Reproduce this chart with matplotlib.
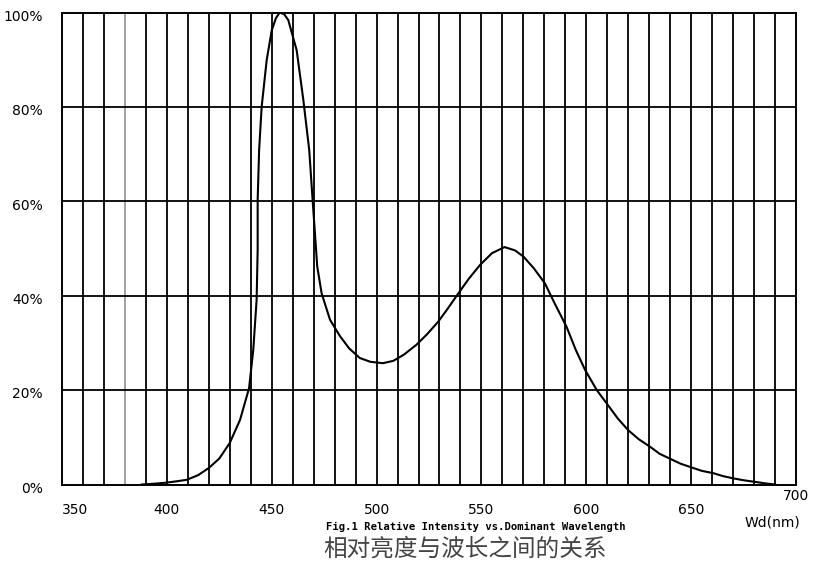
import matplotlib.pyplot as plt
from matplotlib.transforms import ScaledTranslation

# curve
wavelength = [388, 395, 400, 405, 409.5, 415, 420, 425, 430, 434.9, 439.2, 441.2,
              442.8, 443.3, 443.3, 444.0, 445.2, 447.6, 450.0, 452.0, 453.8, 456.0,
              457.9, 461.9, 465.1, 467.9, 469.5, 470.6, 471.7, 473.8, 477.8, 482.6,
              487, 492, 497, 503, 508, 513, 519, 524, 529.4, 534, 539, 544, 549.3,
              555, 561, 566, 570, 575, 580.3, 585, 590.6, 595, 599.4, 605, 609.7,
              615, 620, 625, 630.4, 635, 640.7, 645, 650.3, 655, 660.6, 665, 670.1,
              675, 681.3, 686, 690]
intensity = [0, 0.2, 0.4, 0.7, 1.0, 2.0, 3.5, 5.5, 8.8, 13.7, 20.4, 28.5,
             39.1, 49.7, 60.3, 70.9, 80.0, 89.9, 96.2, 98.8, 100, 99.6,
             98.4, 92.0, 81.4, 70.8, 60.3, 53.3, 46.2, 40.5, 34.9, 31.4,
             28.8, 26.8, 26.0, 25.7, 26.2, 27.5, 29.6, 31.8, 34.5, 37.3, 40.5, 43.6, 46.5,
             49.0, 50.3, 49.6, 48.3, 45.8, 42.6, 38.3, 33.4, 28.5, 24.3, 20.0, 17.2,
             14.0, 11.5, 9.6, 8.0, 6.5, 5.3, 4.4, 3.6, 2.9, 2.4, 1.8, 1.3,
             0.9, 0.5, 0.2, 0]

x_ticks = [350, 400, 450, 500, 550, 600, 650, 700]
y_ticks = [0, 20, 40, 60, 80, 100]
y_labels = ['0%', '20%', '40%', '60%', '80%', '100%']

fig = plt.figure(figsize=(8.15, 5.66), dpi=100)
ax = fig.add_axes([62 / 815, 81.5 / 566, 734 / 815, 472 / 566])

# grid every 10 nm / 20 %
for xv in range(360, 700, 10):
    ax.axvline(xv, color='#999999' if xv == 380 else 'black', lw=1.3, zorder=1)
for yv in range(20, 100, 20):
    ax.axhline(yv, color='black', lw=1.3, zorder=1)

ax.plot(wavelength, intensity, color='black', lw=1.5, zorder=3)

ax.set_xlim(350, 700)
ax.set_ylim(0, 100)
for s in ax.spines.values():
    s.set_linewidth(1.4)

ax.set_xticks(x_ticks)
ax.set_xticklabels([str(v) for v in x_ticks], fontsize=10)
ax.set_yticks(y_ticks)
ax.set_yticklabels(y_labels, fontsize=10)
ax.tick_params(length=0)
ax.tick_params(axis='x', pad=13)
ax.tick_params(axis='y', pad=14)

xl = ax.get_xticklabels()
xl[0].set_horizontalalignment('left')
xl[-1].set_transform(xl[-1].get_transform() + ScaledTranslation(0, 10 / 72, fig.dpi_scale_trans))
for lab in ax.get_yticklabels():
    lab.set_transform(lab.get_transform() + ScaledTranslation(0, -2 / 72, fig.dpi_scale_trans))

fig.text(772 / 815, 1 - 523 / 566, 'Wd(nm)', fontsize=10, ha='center', va='center')
fig.text(476 / 815, 1 - 527 / 566, 'Fig.1 Relative Intensity vs.Dominant Wavelength',
         fontsize=7.6, family='DejaVu Sans Mono', fontweight='bold', ha='center', va='center')
fig.text(465 / 815, 1 - 549 / 566, '相对亮度与波长之间的关系', fontsize=17,
         family=['Noto Sans CJK SC', 'DejaVu Sans'], color='#444444', ha='center', va='center')

fig.savefig('out.png', dpi=100)
